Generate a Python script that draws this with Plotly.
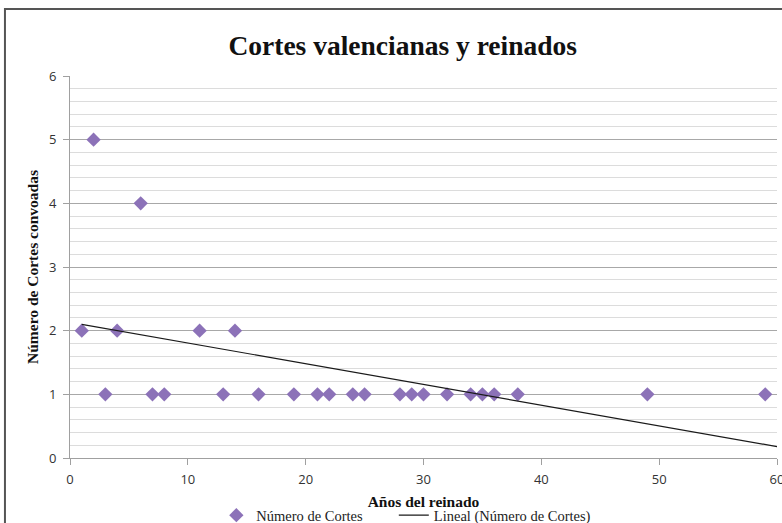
import numpy as np
import plotly.graph_objects as go

# Data
anos_reinado = [1, 2, 3, 4, 6, 7, 8, 11, 13, 14, 16, 19, 21, 22, 24, 25,
                28, 29, 30, 32, 34, 35, 36, 38, 49, 59]
num_cortes = [2, 5, 1, 2, 4, 1, 1, 2, 1, 2, 1, 1, 1, 1, 1, 1,
              1, 1, 1, 1, 1, 1, 1, 1, 1, 1]
x_ticks = [0, 10, 20, 30, 40, 50, 60]
y_ticks = [0, 1, 2, 3, 4, 5, 6]

title_text = "Cortes valencianas y reinados"
x_title = "Años del reinado"
y_title = "Número de Cortes convoadas"
series_name = "Número de Cortes"
trend_name = "Lineal (Número de Cortes)"

# Linear trendline (least squares), drawn over the axis span
slope, intercept = np.polyfit(anos_reinado, num_cortes, 1)
trend_x = [min(anos_reinado), x_ticks[-1]]
trend_y = [slope * v + intercept for v in trend_x]

fig = go.Figure()
fig.add_trace(go.Scatter(
    x=anos_reinado, y=num_cortes, mode="markers", name=series_name,
    marker=dict(symbol="diamond", size=11, color="#8C72B8",
                line=dict(width=0)),
    cliponaxis=False, legend="legend",
))
fig.add_trace(go.Scatter(
    x=trend_x, y=trend_y, mode="lines", name=trend_name,
    line=dict(color="#1a1a1a", width=1.2), legend="legend2",
))

legend_font = dict(family="Liberation Serif", size=14.5, color="#222222")

fig.update_layout(
    width=782, height=523,
    margin=dict(l=70, r=5, t=76, b=65, autoexpand=False),
    paper_bgcolor="white", plot_bgcolor="white",
    title=dict(text="<b>" + title_text + "</b>", x=0.515, xref="container",
               xanchor="center", y=0.914, yref="container", yanchor="middle",
               font=dict(family="Liberation Serif", size=27.5, color="#111111")),
    showlegend=True,
    legend=dict(orientation="h", x=0.207, xanchor="left", y=-0.108,
                yanchor="top", font=legend_font, bgcolor="rgba(0,0,0,0)"),
    legend2=dict(orientation="h", x=0.458, xanchor="left", y=-0.108,
                 yanchor="top", font=legend_font, bgcolor="rgba(0,0,0,0)"),
    shapes=[dict(type="rect", xref="paper", yref="paper",
                 x0=-0.092, x1=1.2, y0=-0.6, y1=1.1754,
                 line=dict(color="#555555", width=2), layer="below")],
)

fig.update_xaxes(
    range=[0, 60], tickvals=x_ticks, showgrid=False, automargin=False,
    showline=True, linecolor="#a0a0a0", linewidth=1,
    ticks="outside", ticklen=6, tickcolor="#a0a0a0", ticklabelstandoff=3,
    ticklabeloverflow="allow",
    tickfont=dict(family="Open Sans", size=13, color="#333333"),
    title=dict(text="<b>" + x_title + "</b>", standoff=9,
               font=dict(family="Liberation Serif", size=15.5, color="#111111")),
    zeroline=False,
)
fig.update_yaxes(
    range=[0, 6], tickvals=y_ticks, automargin=False,
    showgrid=True, gridcolor="#a8a8a8", gridwidth=1,
    minor=dict(dtick=0.2, showgrid=True, gridcolor="#dcdcdc", gridwidth=1),
    showline=True, linecolor="#a0a0a0", linewidth=1,
    ticks="outside", ticklen=6, tickcolor="#a0a0a0", ticklabelstandoff=4,
    tickfont=dict(family="Open Sans", size=13, color="#333333"),
    title=dict(text="<b>" + y_title + "</b>", standoff=6,
               font=dict(family="Liberation Serif", size=15.5, color="#111111")),
    zeroline=False,
)

fig.write_html("out.html", config={"displayModeBar": False},
               post_script="document.body.style.margin='0';")
